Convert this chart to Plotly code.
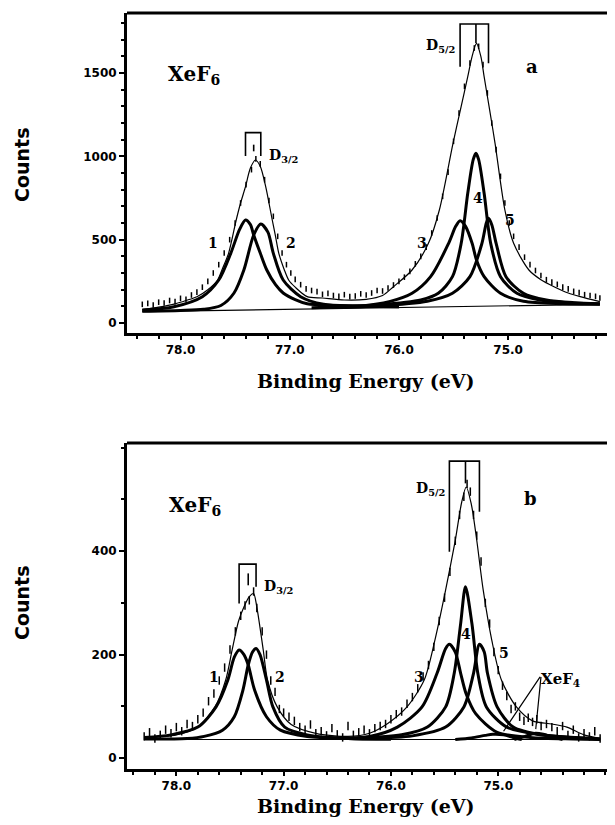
import plotly.graph_objects as go

# ---------------- panel a (upper) ----------------
peaks_a = [77.405, 77.265, 75.44, 75.295, 75.18]   # components 1..5

data_a_x = [78.35, 78.30, 78.25, 78.20, 78.15, 78.10, 78.05, 78.00, 77.95, 77.90,
            77.85, 77.80, 77.75, 77.70, 77.65, 77.60, 77.55, 77.50, 77.45, 77.40,
            77.35, 77.31, 77.27, 77.23, 77.19, 77.15, 77.11, 77.07, 77.03, 76.99,
            76.95, 76.90, 76.85, 76.80, 76.75, 76.70, 76.65, 76.60, 76.55, 76.50,
            76.45, 76.40, 76.35, 76.30, 76.25, 76.20, 76.15, 76.10, 76.05, 76.00,
            75.95, 75.90, 75.85, 75.80, 75.75, 75.70, 75.65, 75.60, 75.55, 75.50,
            75.45, 75.40, 75.35, 75.31, 75.27, 75.23, 75.19, 75.15, 75.11, 75.07,
            75.03, 74.99, 74.95, 74.90, 74.85, 74.80, 74.75, 74.70, 74.65, 74.60,
            74.55, 74.50, 74.45, 74.40, 74.35, 74.30, 74.25, 74.20, 74.16]
data_a_y = [112, 118, 108, 125, 120, 135, 128, 148, 142, 168,
            185, 215, 250, 300, 350, 420, 500, 600, 720, 830,
            920, 985, 955, 860, 735, 640, 520, 420, 350, 300,
            262, 230, 205, 195, 188, 172, 178, 165, 160, 170,
            158, 162, 175, 168, 180, 195, 192, 210, 228, 250,
            275, 310, 355, 400, 455, 540, 630, 760, 905, 1090,
            1260, 1420, 1560, 1650, 1660, 1550, 1380, 1200, 1040, 880,
            720, 600, 520, 455, 395, 350, 315, 285, 260, 245,
            232, 215, 205, 190, 182, 170, 165, 160, 150]

env_a_x = [78.35, 78.2, 78.05, 77.95, 77.85, 77.75, 77.66, 77.62, 77.56, 77.49,
           77.45, 77.405, 77.36, 77.314, 77.27, 77.22, 77.19, 77.16, 77.13, 77.10,
           77.05, 77.01, 76.95, 76.84, 76.7, 76.5, 76.3, 76.15, 76.05, 75.88,
           75.73, 75.63, 75.505, 75.43, 75.37, 75.33, 75.29, 75.25, 75.22, 75.17,
           75.12, 75.03, 74.95, 74.81, 74.7, 74.58, 74.45, 74.34, 74.16]
env_a_y = [80, 95, 115, 135, 158, 200, 258, 320, 418, 618,
           720, 818, 930, 978, 940, 818, 720, 618, 520, 418,
           320, 258, 215, 158, 150, 138, 142, 165, 218, 318,
           478, 678, 1078, 1300, 1478, 1600, 1678, 1600, 1478, 1280,
           1078, 678, 478, 318, 260, 218, 180, 158, 128]

base_a_x = [78.35, 74.16]
base_a_y = [68, 112]

comp1_a_x = [78.35, 78.06, 77.80, 77.65, 77.54, 77.46, 77.405, 77.36, 77.33, 77.27,
             77.21, 77.13, 77.06, 76.95, 76.84, 76.6, 76.3, 76.0]
comp1_a_y = [78, 98, 158, 258, 418, 560, 618, 590, 528, 420,
             318, 230, 180, 140, 115, 105, 100, 97]
comp2_a_x = [78.35, 78.0, 77.79, 77.63, 77.51, 77.42, 77.33, 77.265, 77.2, 77.15,
             77.06, 76.90, 76.69, 76.4, 76.0]
comp2_a_y = [70, 75, 82, 105, 180, 318, 528, 594, 545, 418,
             258, 158, 112, 102, 98]
comp3_a_x = [76.8, 76.4, 76.08, 75.88, 75.71, 75.545, 75.48, 75.44, 75.39, 75.33,
             75.29, 75.22, 75.07, 74.86, 74.5, 74.16]
comp3_a_y = [92, 100, 130, 178, 278, 478, 580, 614, 580, 478,
             378, 278, 178, 130, 115, 112]
comp4_a_x = [76.6, 76.2, 75.80, 75.64, 75.51, 75.43, 75.37, 75.32, 75.295, 75.27,
             75.22, 75.16, 75.07, 74.92, 74.71, 74.4, 74.16]
comp4_a_y = [95, 108, 138, 178, 278, 478, 778, 980, 1018, 980,
             778, 478, 278, 178, 138, 120, 114]
comp5_a_x = [76.6, 76.2, 75.74, 75.51, 75.35, 75.24, 75.2, 75.18, 75.15, 75.11,
             75.02, 74.86, 74.65, 74.4, 74.16]
comp5_a_y = [95, 102, 130, 178, 278, 478, 600, 628, 590, 478,
             278, 178, 138, 122, 116]

# ---------------- panel b (lower) ----------------
peaks_b = [77.415, 77.257, 75.455, 75.305, 75.175]
xef4_peaks_b = [74.95, 74.65]
xef4_heights_b = [52, 56]

data_b_x = [78.30, 78.25, 78.20, 78.15, 78.10, 78.05, 78.00, 77.95, 77.90, 77.85,
            77.80, 77.75, 77.70, 77.65, 77.60, 77.55, 77.50, 77.45, 77.40, 77.36,
            77.32, 77.28, 77.25, 77.20, 77.16, 77.12, 77.08, 77.04, 77.00, 76.95,
            76.90, 76.85, 76.80, 76.75, 76.70, 76.65, 76.60, 76.55, 76.50, 76.45,
            76.40, 76.35, 76.30, 76.25, 76.20, 76.15, 76.10, 76.05, 76.00, 75.95,
            75.90, 75.85, 75.80, 75.75, 75.70, 75.65, 75.60, 75.55, 75.50, 75.45,
            75.40, 75.36, 75.32, 75.29, 75.26, 75.23, 75.20, 75.16, 75.12, 75.08,
            75.04, 75.00, 74.96, 74.92, 74.88, 74.84, 74.80, 74.76, 74.72, 74.68,
            74.64, 74.60, 74.55, 74.50, 74.45, 74.40, 74.35, 74.30, 74.25, 74.20,
            74.15, 74.10, 74.05]
data_b_y = [42, 50, 38, 45, 55, 48, 60, 52, 66, 62,
            75, 88, 110, 125, 150, 175, 210, 245, 275, 295,
            305, 322, 290, 245, 200, 150, 128, 95, 88, 80,
            72, 60, 55, 65, 48, 52, 44, 58, 46, 40,
            62, 45, 50, 55, 48, 58, 62, 66, 75, 85,
            90, 105, 118, 135, 158, 180, 215, 265, 310, 360,
            420, 470, 505, 530, 515, 470, 430, 380, 300, 260,
            205, 170, 140, 120, 95, 100, 80, 72, 78, 70,
            75, 62, 66, 60, 52, 62, 45, 55, 40, 48,
            42, 52, 38]

env_b_x = [78.30, 78.0, 77.8, 77.64, 77.54, 77.48, 77.42, 77.37, 77.32, 77.28,
           77.25, 77.19, 77.15, 77.06, 76.93, 76.7, 76.4, 76.2, 76.03, 75.85,
           75.69, 75.59, 75.49, 75.40, 75.34, 75.298, 75.25, 75.20, 75.14, 75.06,
           74.97, 74.83, 74.68, 74.5, 74.36, 74.2, 74.05]
env_b_y = [40, 45, 60, 99, 151, 209, 265, 292, 312, 318,
           292, 209, 151, 99, 65, 48, 42, 48, 67, 99,
           151, 228, 325, 421, 495, 524, 490, 421, 325, 228,
           151, 99, 72, 66, 60, 45, 38]

base_b_x = [78.30, 74.05]
base_b_y = [36, 36]

comp1_b_x = [78.30, 78.05, 77.80, 77.63, 77.52, 77.46, 77.415, 77.37, 77.33, 77.27,
             77.16, 77.03, 76.78, 76.4, 76.0]
comp1_b_y = [40, 45, 60, 99, 151, 195, 209, 200, 180, 131,
             80, 54, 42, 38, 37]
comp2_b_x = [78.30, 77.9, 77.74, 77.57, 77.46, 77.38, 77.33, 77.29, 77.257, 77.22,
             77.16, 77.10, 76.99, 76.78, 76.4, 76.0]
comp2_b_y = [37, 38, 42, 54, 80, 131, 180, 205, 212, 200,
             151, 99, 60, 45, 38, 37]
comp3_b_x = [76.6, 76.2, 75.94, 75.71, 75.57, 75.49, 75.455, 75.40, 75.35, 75.30,
             75.21, 75.01, 74.7, 74.3, 74.05]
comp3_b_y = [39, 42, 60, 99, 164, 212, 220, 205, 164, 125,
             86, 50, 40, 37, 36]
comp4_b_x = [76.4, 75.9, 75.66, 75.49, 75.41, 75.35, 75.305, 75.245, 75.19, 75.11,
             74.92, 74.6, 74.05]
comp4_b_y = [38, 45, 60, 99, 164, 260, 331, 260, 164, 99,
             60, 45, 37]
comp5_b_x = [76.2, 75.8, 75.49, 75.32, 75.23, 75.175, 75.13, 75.10, 75.01, 74.86,
             74.6, 74.05]
comp5_b_y = [38, 43, 60, 99, 164, 220, 205, 164, 99, 60,
             45, 37]
xef4a_b_x = [75.40, 75.25, 75.12, 75.05, 74.95, 74.86, 74.78]
xef4a_b_y = [36, 39, 44, 46, 45, 40, 36]
xef4b_b_x = [74.85, 74.75, 74.68, 74.65, 74.58, 74.5, 74.4]
xef4b_b_y = [36, 42, 47, 48, 46, 41, 36]

x_ticks = [78.0, 77.0, 76.0, 75.0]
y_ticks_a = [0, 500, 1000, 1500]
y_ticks_b = [0, 200, 400]

INK = "black"
thick = dict(color=INK, width=3, shape="spline", smoothing=0.8)
thin = dict(color=INK, width=1.2, shape="spline", smoothing=0.8)

# the page body adds an 8 px margin, so the figure is sized to fit the window
OFF, W, H = 8, 607, 817


def px(x):
    return (x - OFF) / W


def py(y):
    return 1 - (y - OFF) / H


fig = go.Figure()


def add_panel(xa, ya, data_x, data_y, env_x, env_y, base_x, base_y, comps, msize):
    fig.add_trace(go.Scatter(x=data_x, y=data_y, mode="markers", xaxis=xa, yaxis=ya,
                             marker=dict(symbol="line-ns", size=msize, color=INK,
                                         line=dict(width=1.5, color=INK))))
    fig.add_trace(go.Scatter(x=env_x, y=env_y, mode="lines", xaxis=xa, yaxis=ya, line=thin))
    fig.add_trace(go.Scatter(x=base_x, y=base_y, mode="lines", xaxis=xa, yaxis=ya,
                             line=dict(color=INK, width=1.2)))
    for cx, cy in comps:
        fig.add_trace(go.Scatter(x=cx, y=cy, mode="lines", xaxis=xa, yaxis=ya, line=thick))


def add_bracket(xa, ya, left, right, centre, top, left_low, right_low, c_top, c_low):
    fig.add_trace(go.Scatter(x=[left, left, right, right], y=[left_low, top, top, right_low],
                             mode="lines", xaxis=xa, yaxis=ya,
                             line=dict(color=INK, width=1.6)))
    fig.add_trace(go.Scatter(x=[centre, centre], y=[c_top, c_low], mode="lines",
                             xaxis=xa, yaxis=ya, line=dict(color=INK, width=1.6)))


add_panel("x", "y", data_a_x, data_a_y, env_a_x, env_a_y, base_a_x, base_a_y,
          [(comp1_a_x, comp1_a_y), (comp2_a_x, comp2_a_y), (comp3_a_x, comp3_a_y),
           (comp4_a_x, comp4_a_y), (comp5_a_x, comp5_a_y)], 4)
add_bracket("x", "y", peaks_a[0], peaks_a[1], 77.33, 1142, 1002, 1002, 1070, 1030)
add_bracket("x", "y", peaks_a[2], peaks_a[4], peaks_a[3], 1794, 1538, 1558, 1794, 1680)

add_panel("x2", "y2", data_b_x, data_b_y, env_b_x, env_b_y, base_b_x, base_b_y,
          [(comp1_b_x, comp1_b_y), (comp2_b_x, comp2_b_y), (comp3_b_x, comp3_b_y),
           (comp4_b_x, comp4_b_y), (comp5_b_x, comp5_b_y),
           (xef4a_b_x, xef4a_b_y), (xef4b_b_x, xef4b_b_y)], 6)
add_bracket("x2", "y2", peaks_b[0], peaks_b[1], 77.33, 375, 299, 331, 357, 334)
add_bracket("x2", "y2", peaks_b[2], peaks_b[4], peaks_b[3], 574, 399, 476, 574, 531)

lab_font = dict(family="DejaVu Serif", size=14, color=INK, weight="bold")
ab_font = dict(family="DejaVu Serif", size=18, color=INK, weight="bold")
big_font = dict(family="DejaVu Serif", size=20, color=INK, weight="bold")
d_font = dict(family="DejaVu Serif", size=14, color=INK, weight="bold")

ann = []


def label(text, x, y, xref, yref, font, xanchor="center", **kw):
    ann.append(dict(text=text, x=x, y=y, xref=xref, yref=yref, showarrow=False, font=font,
                    xanchor=xanchor, yanchor="middle", **kw))


# panel a labels
for txt, x, y in [("1", 77.70, 480), ("2", 76.99, 480), ("3", 75.79, 480),
                  ("4", 75.28, 750), ("5", 74.98, 618)]:
    label(txt, x, y, "x", "y", lab_font)
label("a", 74.78, 1536, "x", "y", ab_font)
label("XeF<sub>6</sub>", 77.88, 1490, "x", "y", big_font)
label("D<sub>3/2</sub>", 77.21, 1000, "x", "y", d_font, xanchor="left")
label("D<sub>5/2</sub>", 75.47, 1660, "x", "y", d_font, xanchor="right")
# panel b labels
for txt, x, y in [("1", 77.65, 157), ("2", 77.03, 157), ("3", 75.74, 157),
                  ("4", 75.30, 240), ("5", 74.95, 203)]:
    label(txt, x, y, "x2", "y2", lab_font)
label("b", 74.70, 502, "x2", "y2", ab_font)
label("XeF<sub>6</sub>", 77.83, 488, "x2", "y2", big_font)
label("D<sub>3/2</sub>", 77.20, 330, "x2", "y2", d_font, xanchor="left")
label("D<sub>5/2</sub>", 75.48, 520, "x2", "y2", d_font, xanchor="right")
label("XeF<sub>4</sub>", 74.42, 152, "x2", "y2",
      dict(family="DejaVu Serif", size=15, color=INK, weight="bold"))
for ex, ey in zip(xef4_peaks_b, xef4_heights_b):
    ann.append(dict(text="", x=ex, y=ey, xref="x2", yref="y2", ax=74.60, ay=160,
                    axref="x2", ayref="y2", showarrow=True, arrowhead=0, arrowwidth=1.2,
                    arrowcolor=INK))
# axis titles
title_font = dict(family="DejaVu Serif", size=19, color=INK, weight="bold")
counts_font = dict(family="DejaVu Sans", size=19, color=INK, weight="bold")
for yc in [381, 806]:
    label("Binding Energy (eV)", px(365), py(yc), "paper", "paper", title_font)
for yc in [165, 603]:
    label("Counts", px(22), py(yc), "paper", "paper", counts_font, textangle=-90)

tick_font = dict(family="DejaVu Sans", size=12, color=INK, weight="bold")
x_common = dict(showline=True, linewidth=3, linecolor=INK, ticks="outside", ticklen=4,
                tickwidth=2, tickcolor=INK, tickvals=x_ticks, tickformat=".1f",
                tickfont=tick_font, showgrid=False, zeroline=False,
                minor=dict(dtick=0.2, ticks="outside", ticklen=3, tickwidth=1.5,
                           tickcolor=INK, tick0=78.0))
y_common = dict(showline=True, linewidth=3, linecolor=INK, ticks="outside", ticklen=5,
                tickwidth=2, tickcolor=INK, tickfont=tick_font, showgrid=False,
                zeroline=False,
                minor=dict(dtick=100, ticks="outside", ticklen=3, tickwidth=1.5,
                           tickcolor=INK, tick0=0))

xdom = [px(127), px(613)]
ydom_a = [py(333), py(13)]
ydom_b = [py(769), py(443)]

fig.update_layout(
    width=W, height=H,
    margin=dict(l=0, r=0, t=0, b=0),
    paper_bgcolor="white", plot_bgcolor="white",
    showlegend=False,
    xaxis=dict(domain=xdom, anchor="y", range=[78.49, 74.04], **x_common),
    yaxis=dict(domain=ydom_a, anchor="x", range=[-60, 1860], tickvals=y_ticks_a, **y_common),
    xaxis2=dict(domain=xdom, anchor="y2", range=[78.46, 73.93], **x_common),
    yaxis2=dict(domain=ydom_b, anchor="x2", range=[-21, 609], tickvals=y_ticks_b, **y_common),
    annotations=ann,
)

# frame: heavy top edge, light right edge
for xr, yr in [("x domain", "y domain"), ("x2 domain", "y2 domain")]:
    fig.add_shape(type="line", xref=xr, yref=yr, x0=0, x1=1, y0=1, y1=1,
                  line=dict(color=INK, width=3))
    fig.add_shape(type="line", xref=xr, yref=yr, x0=1, x1=1, y0=0, y1=1,
                  line=dict(color=INK, width=1))

fig.write_html("out.html")
